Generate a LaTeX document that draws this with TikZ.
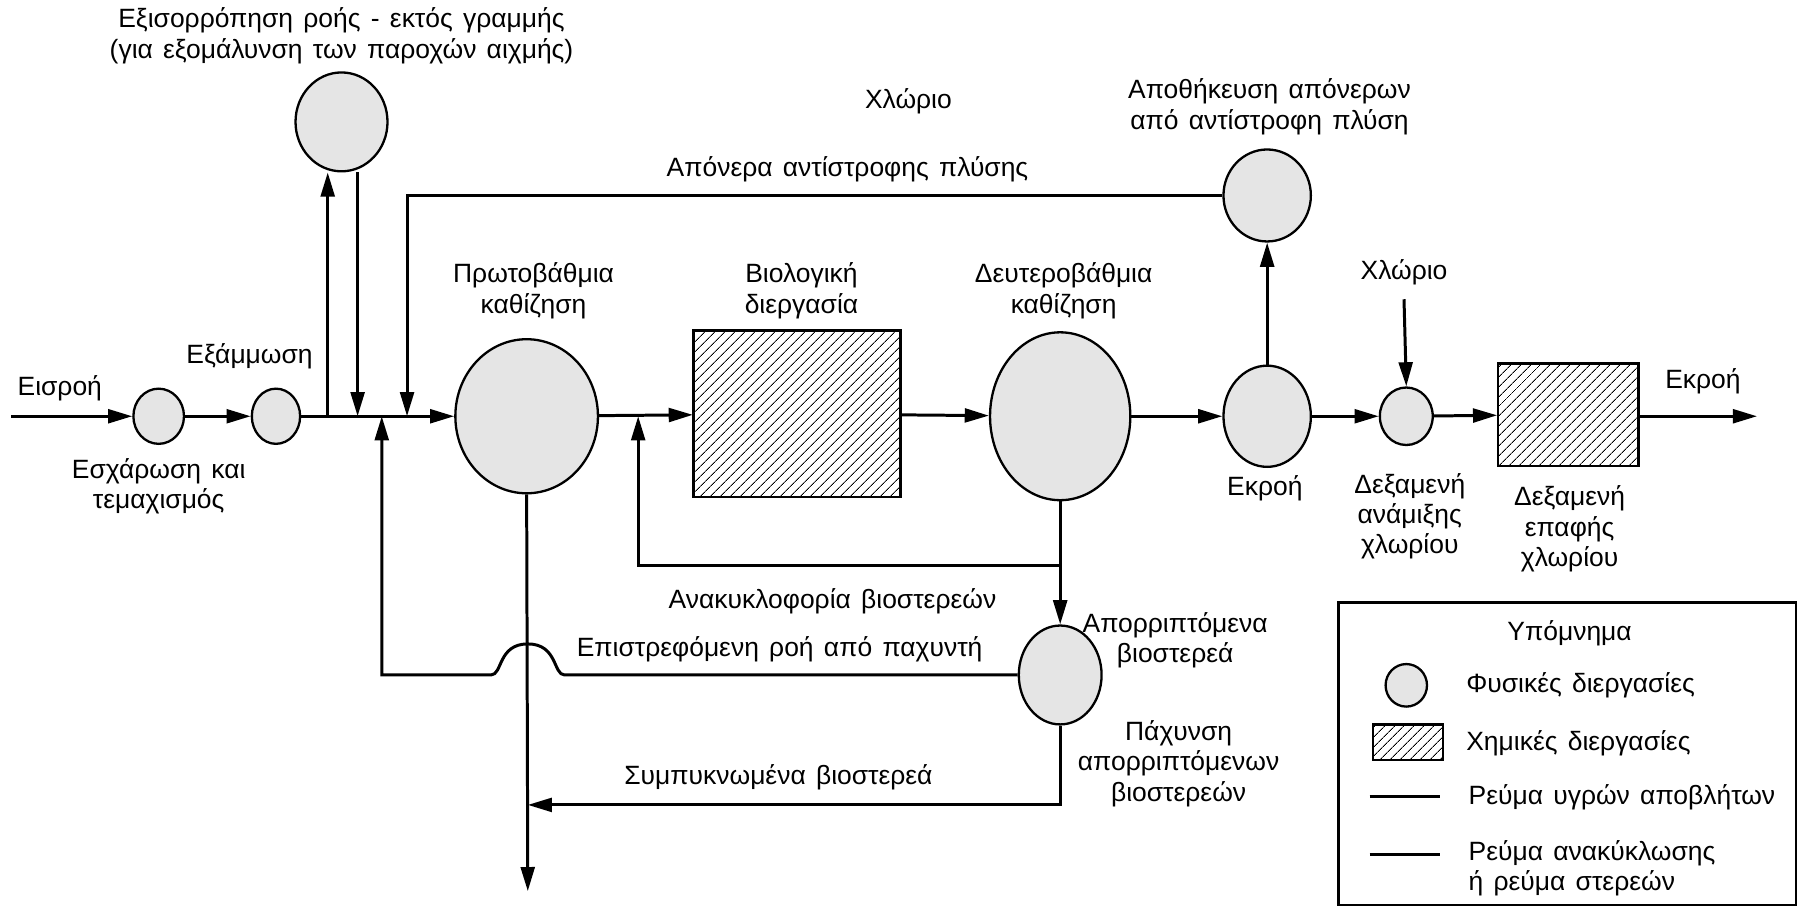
\documentclass[tikz,border=0pt]{standalone}
\usepackage{fontspec}
\setmainfont{Liberation Sans}[WordSpace={1.4}]
\usetikzlibrary{shapes.geometric,arrows.meta,patterns.meta}
\tikzset{
  proc/.style={ellipse, draw, line width=2pt, fill=black!10, inner sep=0pt},
  chem/.style={rectangle, draw, line width=2pt, pattern={Lines[angle=45,distance=6.5pt,line width=0.9pt]}, inner sep=0pt},
  flow/.style={line width=2.6pt, -{Triangle[length=21pt,width=12pt]}},
  pipe/.style={line width=2.6pt},
  lbl/.style={font=\fontsize{23}{26.5}\selectfont, align=center, inner sep=0pt},
}
\begin{document}
\begin{tikzpicture}[x=1pt,y=-1pt]
\useasboundingbox (0,0) rectangle (1568,791);
% process units
\node[proc, minimum width=44pt, minimum height=48pt] (c1) at (138,362) {};
\node[proc, minimum width=42pt, minimum height=48pt] (c2) at (240,362) {};
\node[proc, minimum width=80pt, minimum height=86pt] (ceq) at (297,106) {};
\node[proc, minimum width=124pt, minimum height=134pt] (cp) at (458,362) {};
\node[chem, minimum width=180pt, minimum height=145pt] (bio) at (693,360) {};
\node[proc, minimum width=122pt, minimum height=146pt] (cs) at (922,362) {};
\node[proc, minimum width=72pt, minimum height=86pt] (cth) at (922,587) {};
\node[proc, minimum width=76pt, minimum height=88pt] (ce) at (1102,362) {};
\node[proc, minimum width=76pt, minimum height=80pt] (cbw) at (1102,170) {};
\node[proc, minimum width=46pt, minimum height=50pt] (cm) at (1223,362) {};
\node[chem, minimum width=122pt, minimum height=89pt] (cc) at (1364,360.5) {};
% coordinates
\coordinate (in0) at (10,362);
\coordinate (j1) at (285,362);
\coordinate (j2) at (311,362);
\coordinate (j3) at (354,362);
\coordinate (j4) at (332,362);
\coordinate (j6) at (555,362);
\coordinate (j5) at (922,492);
\coordinate (sout) at (459,775);
\coordinate (tk) at (922,700);
\coordinate (out0) at (1528,362);
% labels
\node[lbl] (leq) at (297,31) {Εξισορρόπηση ροής - εκτός γραμμής\\(για εξομάλυνση των παροχών αιχμής)};
\node[lbl] (lin) at (52,338) {Εισροή};
\node[lbl] (lgrit) at (217,310) {Εξάμμωση};
\node[lbl] (lscr) at (138,423) {Εσχάρωση και\\τεμαχισμός};
\node[lbl] (lcl1) at (790,88) {Χλώριο};
\node[lbl] (lbw) at (737,147) {Απόνερα αντίστροφης πλύσης};
\node[lbl] (lbws) at (1104,93) {Αποθήκευση απόνερων\\από αντίστροφη πλύση};
\node[lbl] (lprim) at (464,253) {Πρωτοβάθμια\\καθίζηση};
\node[lbl] (lbio) at (697,253) {Βιολογική\\διεργασία};
\node[lbl] (lsec) at (925,253) {Δευτεροβάθμια\\καθίζηση};
\node[lbl] (lcl2) at (1221,237) {Χλώριο};
\node[lbl] (leff) at (1100,425) {Εκροή};
\node[lbl] (lmix) at (1226,449) {Δεξαμενή\\ανάμιξης\\χλωρίου};
\node[lbl] (lcon) at (1365,460) {Δεξαμενή\\επαφής\\χλωρίου};
\node[lbl] (lout) at (1481,332) {Εκροή};
\node[lbl] (lrec) at (724,523) {Ανακυκλοφορία βιοστερεών};
\node[lbl] (lwas) at (1022,557) {Απορριπτόμενα\\βιοστερεά};
\node[lbl] (lret) at (678,565) {Επιστρεφόμενη ροή από παχυντή};
\node[lbl] (lthk) at (1025,664) {Πάχυνση\\απορριπτόμενων\\βιοστερεών};
\node[lbl] (lcon2) at (677,676) {Συμπυκνωμένα βιοστερεά};
% main flow
\draw[flow] (in0) -- (c1);
\draw[flow] (c1) -- (c2);
\draw[flow] (c2) -- (cp);
\draw[flow] (j1) -- (j1 |- ceq.south);
\draw[flow] (j2 |- ceq.south) -- (j2);
\draw[flow] (cbw.west) -- (j3 |- cbw.west) -- (j3);
\draw[flow] (cp) -- (bio);
\draw[flow] (bio) -- (cs);
\draw[flow] (cs) -- (ce);
\draw[flow] (ce) -- (cbw);
\draw[flow] (ce) -- (cm);
\draw[flow] (cm) -- (cc);
\draw[flow] (cc.east |- out0) -- (out0);
\draw[flow] (lcl2.south) ++(0,12) coordinate (clt) -- (cm.north);
% sludge lines
\draw[flow] (cp.south) -- (sout);
\draw[flow] (j5) -- (j6 |- j5) -- (j6);
\draw[flow] (cs.south) -- (cth.north);
\draw[flow] (cth.west) -- (491,587) .. controls (481,587) and (485,560) .. (459,560)
   .. controls (433,560) and (437,587) .. (427,587) -- (j4 |- cth.west) -- (j4);
\draw[flow] (cth.south) -- (tk) -- (sout |- tk);
% legend
\node[draw, line width=2.2pt, minimum width=398pt, minimum height=263pt, inner sep=0pt] (leg) at (1363,655.5) {};
\node[lbl] (legt) at (1365,551) {Υπόμνημα};
\node[proc, minimum width=36pt, minimum height=37pt] (legc) at (1223,596) {};
\node[lbl, anchor=west] (legct) at (1275,596) {Φυσικές διεργασίες};
\node[chem, minimum width=61pt, minimum height=31pt] (legr) at (1224.5,645.5) {};
\node[lbl, anchor=west] (legrt) at (1275,646) {Χημικές διεργασίες};
\coordinate (lga) at (1191,693);
\coordinate (lgb) at (1252,693);
\draw[pipe] (lga) -- (lgb);
\node[lbl, anchor=west] (leglt) at (1277,693) {Ρεύμα υγρών αποβλήτων};
\coordinate (lgc) at (1191,743);
\coordinate (lgd) at (1252,743);
\draw[pipe] (lgc) -- (lgd);
\node[lbl, anchor=west, align=left] (legst) at (1277,755) {Ρεύμα ανακύκλωσης\\ή ρεύμα στερεών};
\end{tikzpicture}
\end{document}
